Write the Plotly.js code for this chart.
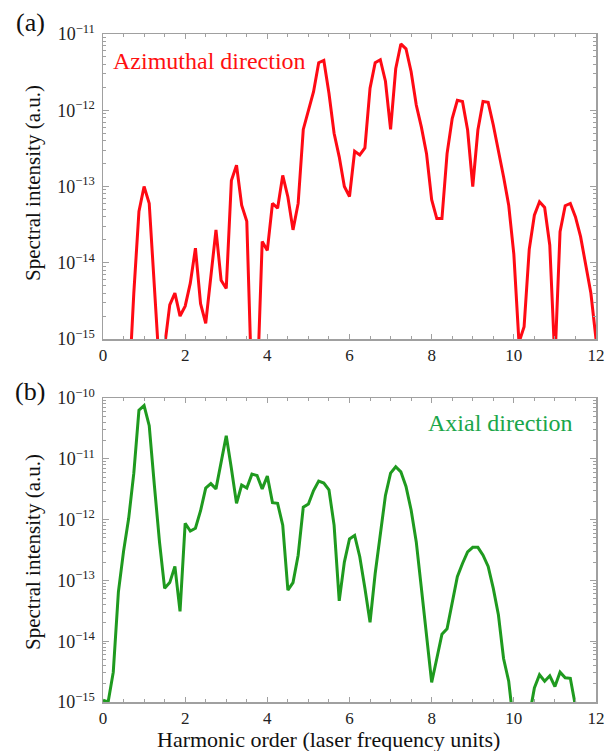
<!DOCTYPE html>
<html>
<head>
<meta charset="utf-8">
<script src="https://cdn.plot.ly/plotly-3.0.1.min.js"></script>
<style>html,body{margin:0;padding:0;background:#fff;}#chart{width:614px;height:751px;}</style>
</head>
<body>
<div id="chart"></div>
<script>
// Panel (a): azimuthal direction
const azimuthalOrder = [0.625,0.75,0.875,1.0,1.125,1.25,1.375,1.5,1.625,1.75,1.875,2.0,2.125,2.25,2.375,2.5,2.625,2.75,2.875,3.0,3.125,3.25,3.375,3.5,3.625,3.75,3.875,4.0,4.125,4.25,4.375,4.5,4.625,4.75,4.875,5.0,5.125,5.25,5.375,5.5,5.625,5.75,5.875,6.0,6.125,6.25,6.375,6.5,6.625,6.75,6.875,7.0,7.125,7.25,7.375,7.5,7.625,7.75,7.875,8.0,8.125,8.25,8.375,8.5,8.625,8.75,8.875,9.0,9.125,9.25,9.375,9.5,9.625,9.75,9.875,10.0,10.125,10.25,10.375,10.5,10.625,10.75,10.875,11.0,11.125,11.25,11.375,11.5,11.625,11.75,11.875,12.0];
const azimuthalIntensity = [2e-16,4e-15,4.7e-14,1.0e-13,6e-14,6e-15,4e-16,8e-16,2.8e-15,4e-15,2e-15,2.7e-15,5.4e-15,1.55e-14,2.9e-15,1.6e-15,6.6e-15,2.7e-14,5.9e-15,4.6e-15,1.2e-13,1.9e-13,5.7e-14,3.5e-14,2e-16,2e-16,1.9e-14,1.45e-14,6e-14,5.2e-14,1.4e-13,7.3e-14,2.7e-14,6e-14,5.6e-13,9.6e-13,1.75e-12,4.2e-12,4.5e-12,1.67e-12,5e-13,2.45e-13,1.0e-13,7.4e-14,2.9e-13,2.6e-13,3.2e-13,1.95e-12,4.2e-12,4.6e-12,2.4e-12,5.6e-13,3.5e-12,7.4e-12,6.4e-12,3.2e-12,1.17e-12,6e-13,2.7e-13,6.7e-14,3.8e-14,3.8e-14,2.7e-13,7.8e-13,1.35e-12,1.3e-12,5.5e-13,1.0e-13,5.5e-13,1.3e-12,1.27e-12,6.4e-13,3e-13,1.34e-13,5.7e-14,1.3e-14,9e-16,1.45e-15,1.5e-14,4.2e-14,6.3e-14,5.3e-14,1.7e-14,5e-16,2.55e-14,5.6e-14,6e-14,4e-14,2.2e-14,9.8e-15,4e-15,1.0e-15];

// Panel (b): axial direction
const axialOrder = [0.0,0.125,0.25,0.375,0.5,0.625,0.75,0.875,1.0,1.125,1.25,1.375,1.5,1.625,1.75,1.875,2.0,2.125,2.25,2.375,2.5,2.625,2.75,2.875,3.0,3.125,3.25,3.375,3.5,3.625,3.75,3.875,4.0,4.125,4.25,4.375,4.5,4.625,4.75,4.875,5.0,5.125,5.25,5.375,5.5,5.625,5.75,5.875,6.0,6.125,6.25,6.375,6.5,6.625,6.75,6.875,7.0,7.125,7.25,7.375,7.5,7.625,7.75,7.875,8.0,8.125,8.25,8.375,8.5,8.625,8.75,8.875,9.0,9.125,9.25,9.375,9.5,9.625,9.75,9.875,10.0,10.125,10.25,10.375,10.5,10.625,10.75,10.875,11.0,11.125,11.25,11.375,11.5,11.625];
const axialIntensity = [1.07e-15,1.0e-15,3.1e-15,6.5e-14,3e-13,1.05e-12,5.8e-12,6.3e-11,7.5e-11,3.5e-11,3.7e-12,4.3e-13,7.4e-14,9.2e-14,1.7e-13,3.1e-14,8.7e-13,6.5e-13,7.2e-13,1.4e-12,3.3e-12,3.9e-12,3.2e-12,8.9e-12,2.4e-11,6.9e-12,1.85e-12,3.7e-12,3.3e-12,5.6e-12,5.3e-12,3.2e-12,5.2e-12,1.9e-12,1.85e-12,8.1e-13,6.9e-14,9.2e-14,2.6e-13,1.6e-12,1.8e-12,3e-12,4.3e-12,4e-12,3.1e-12,8.1e-13,4.6e-14,2e-13,4.8e-13,5.5e-13,2.45e-13,7.4e-14,2.05e-14,1.3e-13,5.6e-13,2.5e-12,5.8e-12,7.4e-12,6.1e-12,3.5e-12,1.44e-12,4.3e-13,7.4e-14,1.26e-14,2.1e-15,5.2e-15,1.3e-14,1.6e-14,4.5e-14,1.15e-13,1.9e-13,2.95e-13,3.5e-13,3.5e-13,2.6e-13,1.7e-13,7.4e-14,2.7e-14,5.2e-15,2.2e-15,4e-16,2e-16,2e-16,6e-16,1.7e-15,2.8e-15,2.2e-15,2.7e-15,1.8e-15,3.1e-15,2.5e-15,2.45e-15,9e-16,3e-16];

const xTicks = [0,2,4,6,8,10,12];
const topExponents = [-15,-14,-13,-12,-11];
const bottomExponents = [-15,-14,-13,-12,-11,-10];
const mantissas = [2,3,4,5,6,7,8,9];

const serif = '"Liberation Serif", "Times New Roman", serif';
const W = 614, H = 751;
const px = v => v / W;
const py = v => 1 - v / H;

const frame = '#a0a0a0';

function minorLogTicks(exps) {
  const out = [];
  exps.slice(0, -1).forEach(e => mantissas.forEach(m => out.push(m * Math.pow(10, e))));
  return out;
}

function xAxis(anchor) {
  return {
    anchor: anchor,
    domain: [px(103), px(596)],
    range: [0, 12],
    tickmode: 'array',
    tickvals: xTicks,
    ticktext: xTicks.map(String),
    ticks: 'inside', ticklen: 5, tickwidth: 1, tickcolor: frame,
    minor: {ticks: 'inside', ticklen: 3, tickwidth: 1, tickcolor: frame, dtick: 0.5, showgrid: false},
    showline: true, linecolor: frame, linewidth: 1.5, mirror: 'allticks',
    showgrid: false, zeroline: false,
    tickfont: {family: serif, size: 17, color: '#222'},
    ticklabelstandoff: 0
  };
}
function yAxis(anchor, domain, exps) {
  return {
    anchor: anchor,
    domain: domain,
    type: 'log',
    range: [exps[0], exps[exps.length - 1]],
    tickmode: 'array',
    tickvals: exps.map(e => Math.pow(10, e)),
    ticktext: exps.map(e => '10<sup>\u2212' + Math.abs(e) + '</sup>'),
    ticks: 'inside', ticklen: 6, tickwidth: 1, tickcolor: frame,
    minor: {ticks: 'inside', ticklen: 3, tickwidth: 1, tickcolor: frame, showgrid: false,
            tickmode: 'array', tickvals: minorLogTicks(exps)},
    showline: true, linecolor: frame, linewidth: 1.5, mirror: 'allticks',
    showgrid: false, zeroline: false,
    tickfont: {family: serif, size: 18, color: '#222'},
    ticklabelstandoff: 3
  };
}

const data = [
  {x: azimuthalOrder, y: azimuthalIntensity, xaxis: 'x', yaxis: 'y', mode: 'lines',
   line: {color: '#ff0a14', width: 3}, hoverinfo: 'none'},
  {x: axialOrder, y: axialIntensity, xaxis: 'x2', yaxis: 'y2', mode: 'lines',
   line: {color: '#1f9a1f', width: 3}, hoverinfo: 'none'}
];

const ann = (text, x, y, size, color, extra) => Object.assign({
  text: text, xref: 'paper', yref: 'paper', x: px(x), y: py(y),
  xanchor: 'center', yanchor: 'middle', showarrow: false,
  font: {family: serif, size: size, color: color}
}, extra || {});

const layout = {
  width: W, height: H,
  margin: {l: 0, r: 0, t: 0, b: 0},
  paper_bgcolor: '#fff', plot_bgcolor: '#fff',
  showlegend: false,
  xaxis: xAxis('y'),
  yaxis: yAxis('x', [py(339), py(34)], topExponents),
  xaxis2: xAxis('y2'),
  yaxis2: yAxis('x2', [py(702), py(398)], bottomExponents),
  annotations: [
    ann('(a)', 30, 22, 26, '#111'),
    ann('(b)', 30, 391, 26, '#111'),
    ann('Azimuthal direction', 209, 61, 24, '#ff1010'),
    ann('Axial direction', 500, 423, 24, '#1aa64a'),
    ann('Spectral intensity (a.u.)', 33, 183, 21, '#111', {textangle: -90}),
    ann('Spectral intensity (a.u.)', 33, 552, 21, '#111', {textangle: -90}),
    ann('Harmonic order (laser frequency units)', 328, 739, 22, '#111')
  ]
};

Plotly.newPlot('chart', data, layout, {staticPlot: true, displayModeBar: false});
</script>
</body>
</html>
